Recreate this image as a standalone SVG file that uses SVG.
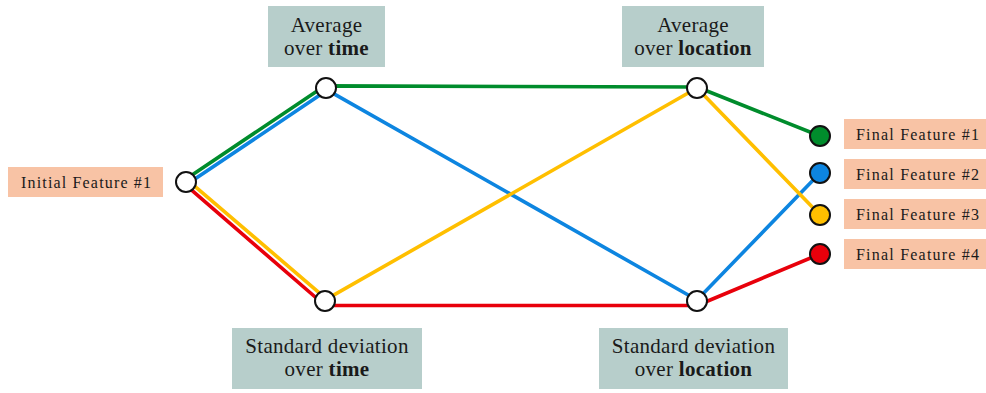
<svg xmlns="http://www.w3.org/2000/svg" width="986" height="393" viewBox="0 0 986 393">
<style>
.bg{fill:#ffffff}
.op{fill:#b7cecb}
.feat{fill:#f8c3a5}
.t{fill:#1a1a1a;font-family:"Liberation Serif","DejaVu Serif","Noto Serif","Times New Roman",Times,"Nimbus Roman","Nimbus Roman No9 L",FreeSerif,Tinos,Georgia,serif}
.tt{font-size:21px;text-anchor:middle;letter-spacing:0.3px}
.ft{font-size:16px}
.b{font-weight:bold}
.ln{fill:none;stroke-width:3.6;stroke-linejoin:round;stroke-linecap:butt}
.node{stroke:#111;stroke-width:2}
.hollow{fill:#ffffff}
</style>
<rect class="bg" x="0" y="0" width="986" height="393"/>
<g id="connectors">
<polyline class="ln" stroke="#008c2c" points="184.6,179.9 324.6,85.9 697,87 820,136"/>
<polyline class="ln" stroke="#0d85e0" points="187.4,184.1 327.4,90.1 697,300 820,173"/>
<polyline class="ln" stroke="#ffbf00" points="187.6,180.1 326.6,299.1 697,88 820,215"/>
<polyline class="ln" stroke="#e8000b" points="184.4,183.9 325,305.5 697,305.5 820,254"/>
</g>
<g id="initial-feature">
<rect class="feat" x="8" y="167" width="155" height="30"/>
<text class="t ft" x="21" y="187.5" textLength="130" lengthAdjust="spacing">Initial Feature #1</text>
</g>
<g id="avg-time">
<rect class="op" x="268" y="6" width="117" height="61"/>
<text class="t tt" x="326.5" y="31.5">Average</text>
<text class="t tt" x="326.5" y="55">over <tspan class="b">time</tspan></text>
</g>
<g id="avg-location">
<rect class="op" x="622" y="6" width="142" height="61"/>
<text class="t tt" x="693" y="31.5">Average</text>
<text class="t tt" x="693" y="55">over <tspan class="b">location</tspan></text>
</g>
<g id="std-time">
<rect class="op" x="232" y="328" width="190" height="61"/>
<text class="t tt" x="327" y="353">Standard deviation</text>
<text class="t tt" x="327" y="376">over <tspan class="b">time</tspan></text>
</g>
<g id="std-location">
<rect class="op" x="599" y="328" width="189" height="61"/>
<text class="t tt" x="693.5" y="353">Standard deviation</text>
<text class="t tt" x="693.5" y="376">over <tspan class="b">location</tspan></text>
</g>
<g id="n-initial"><circle class="node hollow" cx="186" cy="182" r="10"/></g>
<g id="n-avg-time"><circle class="node hollow" cx="326" cy="88" r="10"/></g>
<g id="n-avg-location"><circle class="node hollow" cx="697" cy="88" r="10"/></g>
<g id="n-std-time"><circle class="node hollow" cx="325" cy="301" r="10"/></g>
<g id="n-std-location"><circle class="node hollow" cx="697" cy="301" r="10"/></g>
<g id="final-1">
<circle class="node" fill="#008c2c" cx="820" cy="136" r="10"/>
<rect class="feat" x="844" y="119" width="142" height="30"/>
<text class="t ft" x="856" y="139.5" textLength="123" lengthAdjust="spacing">Final Feature #1</text>
</g>
<g id="final-2">
<circle class="node" fill="#0d85e0" cx="820" cy="173" r="10"/>
<rect class="feat" x="844" y="159" width="142" height="30"/>
<text class="t ft" x="856" y="179.5" textLength="123" lengthAdjust="spacing">Final Feature #2</text>
</g>
<g id="final-3">
<circle class="node" fill="#ffbf00" cx="820" cy="215" r="10"/>
<rect class="feat" x="844" y="199" width="142" height="30"/>
<text class="t ft" x="856" y="219.5" textLength="123" lengthAdjust="spacing">Final Feature #3</text>
</g>
<g id="final-4">
<circle class="node" fill="#e8000b" cx="820" cy="254" r="10"/>
<rect class="feat" x="844" y="239" width="142" height="30"/>
<text class="t ft" x="856" y="259.5" textLength="123" lengthAdjust="spacing">Final Feature #4</text>
</g>
</svg>
